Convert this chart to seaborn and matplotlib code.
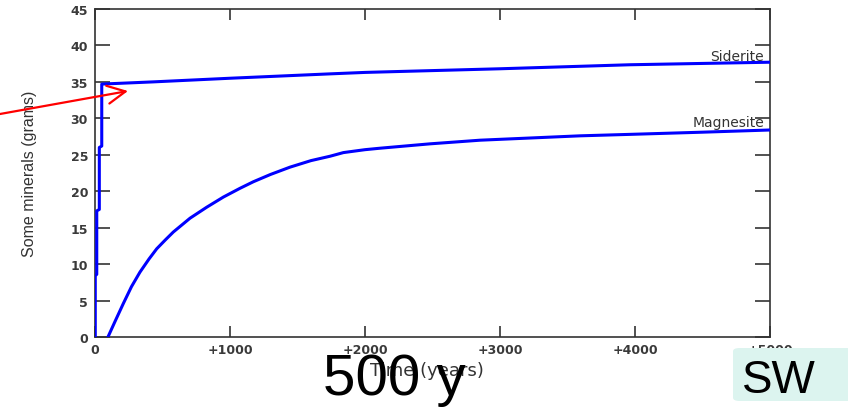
import numpy as np
import pandas as pd
import seaborn as sns
import matplotlib.pyplot as plt
from matplotlib.patches import FancyBboxPatch

## values
siderite_t = [0, 2, 2, 13, 13, 32, 32, 50, 50, 430, 1000, 1740, 2000, 2500, 3000, 3960, 5000]
siderite_g = [0, 0, 8.4, 8.6, 17.3, 17.5, 26.0, 26.2, 34.7, 35.0, 35.5, 36.1, 36.3, 36.55,
              36.8, 37.35, 37.7]

magnesite_t = [96, 150, 210, 270, 333, 400, 457, 520, 580, 704, 827, 951, 1074, 1173, 1300,
               1444, 1600, 1741, 1840, 2000, 2111, 2481, 2852, 3222, 3593, 3963, 4500, 5000]
magnesite_g = [0, 2.2, 4.6, 6.9, 8.9, 10.7, 12.1, 13.3, 14.4, 16.3, 17.8, 19.2, 20.4, 21.3,
               22.3, 23.3, 24.2, 24.8, 25.3, 25.7, 25.9, 26.5, 27.0, 27.3, 27.6, 27.8, 28.1, 28.4]

x_ticks = [0, 1000, 2000, 3000, 4000, 5000]
x_tick_labels = ['0', '+1000', '+2000', '+3000', '+4000', '+5000']
y_ticks = list(range(0, 50, 5))

df = pd.concat([
    pd.DataFrame({'time': siderite_t, 'grams': siderite_g, 'mineral': 'Siderite'}),
    pd.DataFrame({'time': magnesite_t, 'grams': magnesite_g, 'mineral': 'Magnesite'}),
])

sns.set_style('white')
plt.rcParams['font.family'] = ['Liberation Sans', 'DejaVu Sans']

W, H = 848, 414
fig = plt.figure(figsize=(W / 100, H / 100), dpi=100)
ax = fig.add_axes([95 / W, 76 / H, 675 / W, 328 / H])

sns.lineplot(data=df, x='time', y='grams', hue='mineral', units='mineral', estimator=None,
             sort=False, palette={'Siderite': '#0000ff', 'Magnesite': '#0000ff'},
             linewidth=2.2, legend=False, ax=ax, zorder=3)

ax.set_xlim(0, 5000)
ax.set_ylim(0, 45)
ax.set_xticks(x_ticks)
ax.set_xticklabels(x_tick_labels)
ax.set_yticks(y_ticks)

for s in ax.spines.values():
    s.set_visible(True)
    s.set_color('#333333')
    s.set_linewidth(1.2)

ax.tick_params(axis='y', direction='in', length=11, width=1.2, color='#333333',
               left=True, right=True, pad=5, labelsize=9, labelcolor='#3a3a3a')
ax.tick_params(axis='x', direction='in', length=8, width=1.2, color='#333333',
               bottom=True, top=True, pad=4, labelsize=9, labelcolor='#3a3a3a')
for lab in ax.get_xticklabels() + ax.get_yticklabels():
    lab.set_fontweight('bold')
    lab.set_family('DejaVu Sans')

ax.set_xlabel('Time (years)', fontsize=13, color='#333333', family='DejaVu Sans')
ax.set_ylabel('Some minerals (grams)', fontsize=11.5, color='#333333')
ax.xaxis.set_label_coords(0.492, -0.073)
ax.yaxis.set_label_coords(-0.086, 0.5)

ax.text(4956, 38.0, 'Siderite', ha='right', va='baseline', fontsize=10,
        color='#333333', family='DejaVu Sans')
ax.text(4956, 28.9, 'Magnesite', ha='right', va='baseline', fontsize=10,
        color='#333333', family='DejaVu Sans')

# red arrow pointing at the siderite knee
ax.annotate('', xy=(128, H - 92), xycoords='figure pixels',
            xytext=(0, H - 115), textcoords='figure pixels',
            arrowprops=dict(arrowstyle='->, head_length=1.3, head_width=0.65',
                            color='#ff0000', lw=1.6, shrinkA=0, shrinkB=0),
            annotation_clip=False)

# overlay texts
fig.text(323 / W, (H - 395) / H, '500 y', fontsize=42, color='black',
         ha='left', va='baseline')
box = FancyBboxPatch((733 / W, 12 / H), 120 / W, 53 / H,
                     boxstyle='round,pad=0,rounding_size=0.008',
                     transform=fig.transFigure, facecolor='#dcf4ef',
                     edgecolor='none', zorder=5)
fig.patches.append(box)
fig.text(742 / W, (H - 393) / H, 'SW', fontsize=33, color='black',
         ha='left', va='baseline', zorder=6)

fig.savefig('out.png', dpi=100)
